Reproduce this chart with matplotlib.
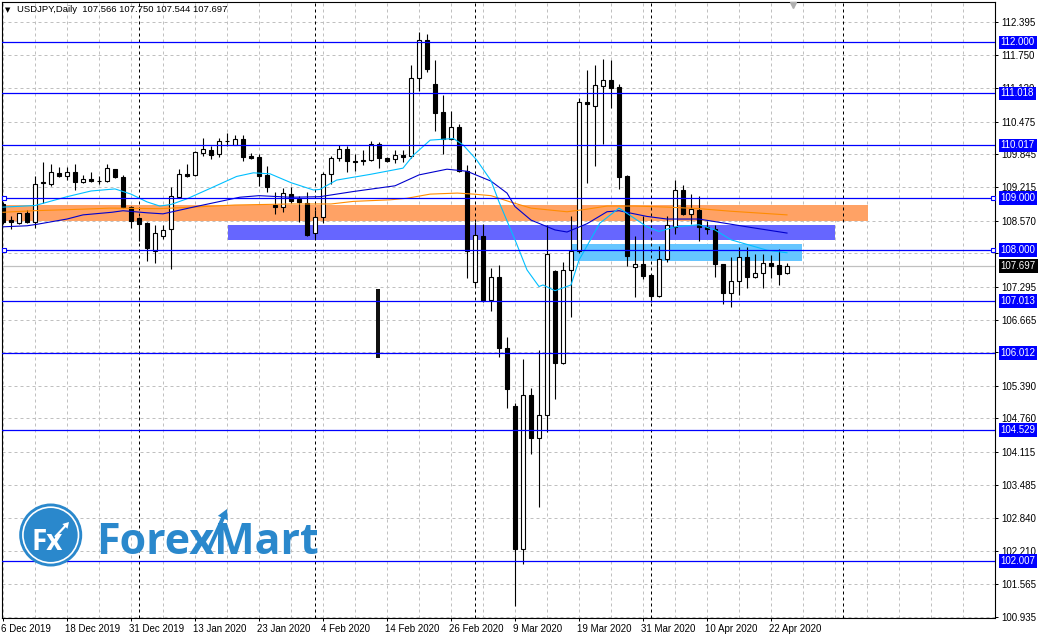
import numpy as np
import matplotlib
matplotlib.use('Agg')
import matplotlib.pyplot as plt
import matplotlib.transforms as mtransforms
from matplotlib.patches import Rectangle, Circle, FancyArrow

# daily candles, 6 Dec 2019 .. 24 Apr 2020 (one per trading day)
opens = [108.88, 108.58, 108.52, 108.71, 108.54, 109.32, 109.27, 109.48, 109.42, 109.50,
         109.31, 109.38, 109.33, 109.34, 109.56, 109.40, 108.83, 108.62, 108.52, 107.98,
         108.28, 108.40, 109.03, 109.47, 109.44, 109.88, 109.93, 109.85, 110.10, 110.03,
         110.14, 109.81, 109.80, 109.45, 108.87, 108.84, 109.08, 108.98, 108.90, 108.34,
         108.63, 109.46, 109.77, 109.94, 109.72, 109.74, 109.74, 110.04, 109.77, 109.75,
         109.83, 109.81, 111.31, 112.05, 111.20, 110.66, 110.14, 110.37, 109.53, 107.39,
         108.27, 107.05, 107.48, 106.11, 104.99, 102.24, 105.22, 104.39, 104.82, 107.60,
         105.83, 107.61, 107.99, 110.86, 110.78, 111.17, 111.28, 111.15, 109.42, 107.67,
         107.73, 107.52, 107.11, 107.83, 108.44, 109.16, 108.69, 108.77, 108.45, 108.40,
         107.73, 107.17, 107.41, 107.86, 107.48, 107.57, 107.75, 107.72, 107.566]
highs = [108.93, 108.66, 108.72, 108.77, 109.43, 109.69, 109.66, 109.60, 109.60, 109.66,
         109.44, 109.50, 109.42, 109.66, 109.57, 109.44, 108.86, 108.64, 108.55, 108.48,
         108.48, 109.21, 109.56, 109.66, 109.91, 110.17, 110.00, 110.16, 110.25, 110.22,
         110.22, 109.88, 109.86, 109.62, 109.12, 109.19, 109.22, 109.05, 109.12, 108.77,
         109.51, 109.81, 110.02, 110.00, 109.85, 109.93, 110.10, 110.08, 109.80, 109.93,
         109.93, 111.57, 112.20, 112.16, 111.66, 110.99, 110.68, 110.43, 109.65, 108.55,
         108.50, 107.65, 107.71, 106.32, 105.05, 105.90, 105.35, 106.08, 108.48, 107.62,
         107.78, 108.65, 110.93, 111.47, 111.57, 111.68, 111.66, 111.20, 109.45, 108.27,
         108.66, 107.55, 108.09, 108.65, 109.35, 109.26, 109.08, 109.04, 108.56, 108.48,
         107.74, 107.86, 108.06, 108.07, 107.92, 107.93, 107.91, 108.02, 107.750]
lows = [108.50, 108.40, 108.50, 108.52, 108.42, 108.90, 109.24, 109.40, 109.36, 109.15,
        109.30, 109.31, 109.28, 109.31, 109.39, 108.81, 108.42, 108.18, 107.80, 107.75,
        108.22, 107.63, 109.00, 109.40, 109.43, 109.82, 109.75, 109.80, 110.00, 110.02,
        109.72, 109.75, 109.24, 109.12, 108.70, 108.73, 108.90, 108.55, 108.27, 108.23,
        108.52, 109.27, 109.71, 109.50, 109.53, 109.65, 109.71, 109.59, 109.70, 109.68,
        109.69, 109.78, 111.07, 111.44, 110.29, 109.85, 110.12, 109.50, 107.47, 107.30,
        107.01, 106.82, 105.94, 104.97, 101.15, 101.96, 104.07, 103.06, 104.49, 105.13,
        105.80, 106.72, 107.95, 109.30, 109.63, 110.05, 110.73, 109.17, 107.70, 107.09,
        107.44, 107.01, 107.10, 107.77, 108.32, 108.68, 108.50, 108.18, 108.32, 107.49,
        106.96, 106.90, 107.14, 107.27, 107.46, 107.27, 107.47, 107.32, 107.544]
closes = [108.55, 108.54, 108.71, 108.54, 109.27, 109.29, 109.50, 109.42, 109.50, 109.31,
          109.38, 109.34, 109.33, 109.58, 109.40, 108.83, 108.57, 108.51, 108.05, 108.33,
          108.39, 109.05, 109.46, 109.42, 109.89, 109.94, 109.83, 110.10, 110.10, 110.14,
          109.80, 109.78, 109.43, 109.22, 108.84, 109.10, 108.95, 108.92, 108.29, 108.64,
          109.46, 109.77, 109.94, 109.71, 109.69, 109.71, 110.04, 109.77, 109.71, 109.83,
          109.80, 111.31, 112.05, 111.49, 110.65, 110.14, 110.37, 109.53, 107.99, 108.29,
          107.04, 107.48, 106.11, 105.32, 102.24, 105.22, 104.39, 104.82, 107.92, 105.83,
          107.62, 107.99, 110.85, 110.81, 111.18, 111.28, 111.13, 109.40, 107.89, 107.73,
          107.51, 107.11, 107.83, 108.49, 109.16, 108.70, 108.79, 108.44, 108.40, 107.73,
          107.17, 107.41, 107.86, 107.49, 107.57, 107.75, 107.70, 107.55, 107.697]

# moving averages: (bar index, price)
fast_ma_x = [0, 4, 8, 11, 14, 16, 18, 19.6, 21, 23, 25.9, 29.2, 31.3, 33.4, 36, 38.8, 39.6,
             41.7, 45.9, 50, 51.3, 53.4, 56.3, 57.5, 59.2, 61, 62, 64, 65.5, 67, 67.5, 69,
             71, 72, 74.6, 77, 78, 80.5, 82, 84, 87, 88.4, 89, 91, 95.5, 98]
fast_ma_y = [108.83, 108.86, 109.03, 109.14, 109.18, 109.08, 108.93, 108.85, 108.88, 108.99,
             109.19, 109.42, 109.49, 109.47, 109.30, 109.16, 109.17, 109.35, 109.46, 109.58,
             109.83, 110.12, 110.15, 110.03, 109.74, 109.34, 108.93, 108.20, 107.62, 107.30,
             107.33, 107.22, 107.33, 107.81, 108.52, 108.81, 108.71, 108.45, 108.36, 108.45,
             108.49, 108.42, 108.39, 108.20, 108.00, 107.95]
mid_ma_x = [0, 3, 4.3, 8, 10, 13.6, 15, 18, 20, 23.8, 29.6, 32, 36, 39.6, 43.8, 49, 52, 55.5,
            58, 61, 63, 64, 66, 69, 70.5, 73, 75.5, 77, 80.5, 83, 87, 89, 91, 93.4, 98]
mid_ma_y = [108.45, 108.47, 108.50, 108.60, 108.68, 108.73, 108.76, 108.72, 108.70, 108.83,
            109.02, 109.05, 109.02, 109.03, 109.13, 109.24, 109.45, 109.56, 109.52, 109.33,
            109.10, 108.84, 108.58, 108.39, 108.35, 108.51, 108.74, 108.76, 108.65, 108.60,
            108.60, 108.55, 108.50, 108.44, 108.33]
slow_ma_x = [0, 3.8, 10, 13.4, 19.6, 23.8, 29, 36, 41, 43.8, 48.4, 50.5, 53.4, 56.8, 58.8,
             61, 63.4, 66, 70.5, 73, 75.5, 79, 83, 87, 91, 98]
slow_ma_y = [108.73, 108.76, 108.79, 108.81, 108.80, 108.83, 108.87, 108.89, 108.89, 108.94,
             108.97, 109.00, 109.08, 109.10, 109.08, 109.05, 108.93, 108.81, 108.74, 108.79,
             108.85, 108.85, 108.83, 108.80, 108.75, 108.68]

date_labels = ['6 Dec 2019', '18 Dec 2019', '31 Dec 2019', '13 Jan 2020', '23 Jan 2020',
               '4 Feb 2020', '14 Feb 2020', '26 Feb 2020', '9 Mar 2020', '19 Mar 2020',
               '31 Mar 2020', '10 Apr 2020', '22 Apr 2020']
label_bars = [0, 8, 16, 24, 32, 40, 48, 56, 64, 72, 80, 88, 96]
month_start_bars = [17, 39, 59, 81, 105]

price_ticks = [112.395, 111.750, 111.120, 110.475, 109.845, 109.215, 108.570, 107.940,
               107.295, 106.665, 106.035, 105.390, 104.760, 104.115, 103.485, 102.840,
               102.210, 101.565, 100.935]
levels = [112.000, 111.018, 110.017, 109.000, 108.000, 107.013, 106.012, 104.529, 102.007]
selected_levels = [109.000, 108.000]
last_price = 107.697

# zones: (first bar, last bar, low, high, colour)
zones = [(-2, 108.1, 108.562, 108.870, '#ffa265'),
         (28.1, 104.0, 108.196, 108.485, '#6666ff'),
         (71.1, 99.9, 107.792, 108.119, '#66c6ff')]
# stray vertical bar drawn on the chart
stray_bar = (46.9, 105.92, 107.25)

header = 'USDJPY,Daily  107.566 107.750 107.544 107.697'

plt.rcParams['font.family'] = ['Liberation Sans', 'DejaVu Sans']

W, H = 1041, 637
fig = plt.figure(figsize=(W / 100, H / 100), dpi=100)
fig.patch.set_facecolor('white')

L, R, T, B = 2, 995, 2, 618
ax = fig.add_axes([L / W, 1 - B / H, (R - L) / W, (B - T) / H])
ax.set_xlim(-0.125, 124.0)
ax.set_ylim(100.916, 112.780)

for s in ax.spines.values():
    s.set_color('black')
    s.set_linewidth(0.8)

dash = (0, (3, 3))
ax.set_yticks(price_ticks)
ax.set_yticklabels(['%.3f' % p for p in price_ticks])
ax.yaxis.tick_right()
ax.grid(axis='y', color='#c0c0c0', linestyle=dash, linewidth=0.72, zorder=0.5)
ax.set_axisbelow(True)
ax.vlines(np.arange(0, 125, 4), 100.916, 112.780, color='#c0c0c0',
          linestyles=[dash], linewidth=0.72, zorder=0.5)

ax.set_xticks(label_bars)
ax.set_xticklabels(date_labels)
ax.tick_params(axis='both', labelsize=7, length=2.2, width=0.72, pad=2.0, colors='black')
shift = mtransforms.ScaledTranslation(-2 / 100, 0, fig.dpi_scale_trans)
for lab in ax.get_xticklabels():
    lab.set_horizontalalignment('left')
    lab.set_transform(lab.get_transform() + shift)

# zones in the background
for x0, x1, y0, y1, col in zones:
    ax.add_patch(Rectangle((x0, y0), x1 - x0, y1 - y0, facecolor=col,
                           edgecolor='none', zorder=1))

ax.axhline(last_price, color='#c0c0c0', linewidth=0.9, zorder=1.5)
for m in month_start_bars:
    ax.axvline(m, color='black', linestyle=dash, linewidth=0.72, zorder=2)

# candles
x = np.arange(len(closes))
o = np.array(opens)
c = np.array(closes)
ax.vlines(x, lows, highs, color='black', linewidth=0.8, zorder=3)
body_lo = np.minimum(o, c)
body_h = np.maximum(np.abs(c - o), 0.012)
ax.bar(x, body_h, bottom=body_lo, width=0.5,
       color=np.where(c >= o, 'white', 'black'), edgecolor='black',
       linewidth=0.8, zorder=3.5)
ax.bar(stray_bar[0], stray_bar[2] - stray_bar[1], bottom=stray_bar[1], width=0.45,
       color='#111111', zorder=3.5)

# moving averages
ax.plot(slow_ma_x, slow_ma_y, color='#ff8c00', linewidth=0.8, zorder=4)
ax.plot(mid_ma_x, mid_ma_y, color='#0000cd', linewidth=0.8, zorder=4)
ax.plot(fast_ma_x, fast_ma_y, color='#00bfff', linewidth=0.8, zorder=4)

# horizontal levels
for lv in levels:
    ax.axhline(lv, color='#0000ff', linewidth=0.9, zorder=5)
for lv in selected_levels:
    ax.plot([0.125, 123.75], [lv, lv], linestyle='none', marker='s', markersize=3.2,
            markerfacecolor='white', markeredgecolor='#0000ff', markeredgewidth=0.8,
            zorder=6, clip_on=False)

trans = mtransforms.blended_transform_factory(ax.transAxes, ax.transData)
for lv in levels:
    ax.text(1.0055, lv, '%.3f' % lv, transform=trans, fontsize=7, color='white',
            ha='left', va='center', zorder=10, clip_on=False,
            bbox=dict(boxstyle='square,pad=0.2', facecolor='#0000ff', edgecolor='none'))
ax.text(1.0055, last_price, '%.3f' % last_price, transform=trans, fontsize=7,
        color='white', ha='left', va='center', zorder=10, clip_on=False,
        bbox=dict(boxstyle='square,pad=0.2', facecolor='black', edgecolor='none'))

# header
fig.text(5 / W, 1 - 10 / H, '\u25bc', fontsize=5, family='DejaVu Sans',
         ha='left', va='center')
fig.text(17 / W, 1 - 10 / H, header, fontsize=6.8, ha='left', va='center')
fig.lines.append(plt.Line2D([793 / W], [1 - 5 / H], marker='v', markersize=5,
                            color='#b0b0b0', linestyle='none', transform=fig.transFigure))

# logo
lx0, lx1, ly0, ly1 = 10, 330, 495, 590
lax = fig.add_axes([lx0 / W, 1 - ly1 / H, (lx1 - lx0) / W, (ly1 - ly0) / H], zorder=5)
lax.set_xlim(lx0, lx1)
lax.set_ylim(ly1, ly0)
lax.axis('off')
logo_blue = '#2a88cc'
lax.add_patch(Circle((50.7, 535), 31.5, facecolor=logo_blue, edgecolor='none'))
lax.add_patch(Circle((50.7, 535), 27.8, facecolor='none', edgecolor='white', linewidth=1.2))
lax.text(31, 550.5, 'Fx', color='white', fontsize=20, family='Open Sans',
         weight='bold', ha='left', va='baseline')
lax.add_patch(FancyArrow(55, 537, 14, -15, width=2.2, head_width=7, head_length=6,
                         length_includes_head=True, color='white', linewidth=0))
lax.text(96, 554.3, 'ForexMart', color=logo_blue, fontsize=31, family='Open Sans',
         weight='bold', ha='left', va='baseline')
lax.add_patch(FancyArrow(209, 549, 18, -40, width=4, head_width=11, head_length=10,
                         length_includes_head=True, color=logo_blue, linewidth=0))

fig.savefig('out.png', dpi=100)
